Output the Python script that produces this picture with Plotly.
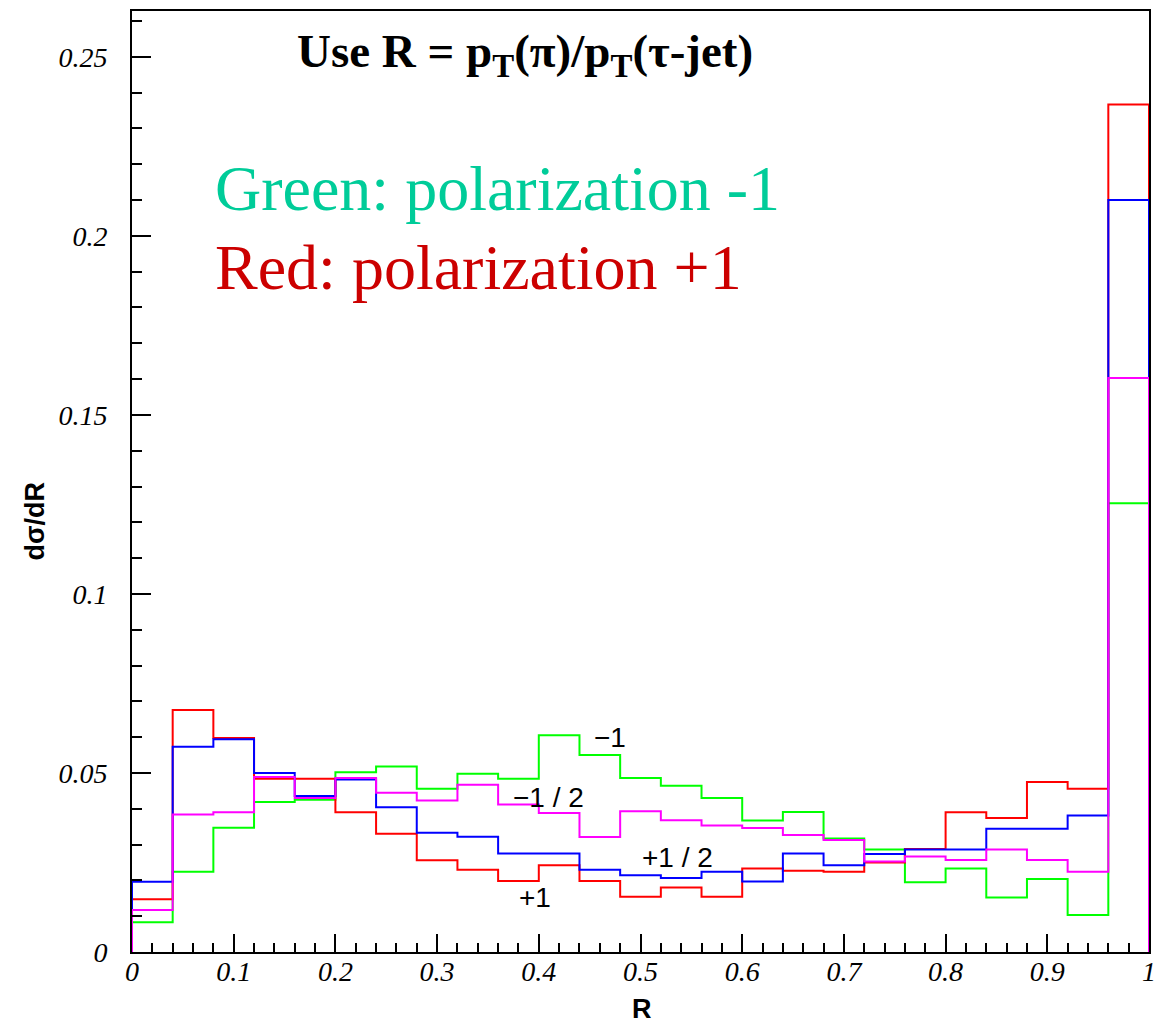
import plotly.graph_objects as go

# Bin edges: 25 bins of width 0.04 on [0, 1]
bin_width = 0.04
n_bins = 25
edges = [round(i * bin_width, 2) for i in range(n_bins + 1)]

# dσ/dR per bin
green_m1 = [0.0083, 0.0224, 0.0347, 0.0419, 0.0425, 0.0502, 0.0518, 0.0456, 0.0498, 0.0484,
            0.0605, 0.0550, 0.0486, 0.0464, 0.0430, 0.0367, 0.0391, 0.0317, 0.0286, 0.0195,
            0.0233, 0.0152, 0.0204, 0.0103, 0.1253]
red_p1 = [0.0147, 0.0676, 0.0598, 0.0484, 0.0484, 0.0390, 0.0330, 0.0256, 0.0230, 0.0198,
          0.0242, 0.0198, 0.0154, 0.0180, 0.0154, 0.0233, 0.0227, 0.0224, 0.0250, 0.0288,
          0.0390, 0.0374, 0.0475, 0.0456, 0.2367]
blue_p12 = [0.0196, 0.0573, 0.0594, 0.0500, 0.0436, 0.0482, 0.0404, 0.0333, 0.0322, 0.0275,
            0.0275, 0.0230, 0.0214, 0.0207, 0.0224, 0.0197, 0.0275, 0.0242, 0.0274, 0.0286,
            0.0286, 0.0344, 0.0344, 0.0381, 0.2100]
magenta_m12 = [0.0117, 0.0384, 0.0390, 0.0489, 0.0430, 0.0486, 0.0445, 0.0423, 0.0467, 0.0412,
               0.0388, 0.0321, 0.0393, 0.0368, 0.0353, 0.0346, 0.0327, 0.0313, 0.0253, 0.0267,
               0.0257, 0.0286, 0.0257, 0.0224, 0.1603]

series = [
    ("polarization -1", green_m1, "#00FF00"),
    ("polarization +1", red_p1, "#FF0000"),
    ("polarization +1/2", blue_p12, "#0000FF"),
    ("polarization -1/2", magenta_m12, "#FF00FF"),
]

# curve labels (text, x, y)
label_text = ["\u22121", "\u22121 / 2", "+1 / 2", "+1"]
label_x = [0.470, 0.410, 0.536, 0.396]
label_y = [0.0598, 0.0432, 0.0265, 0.0152]

y_tickvals = [0, 0.05, 0.1, 0.15, 0.2, 0.25]
y_ticktext = ["0", "0.05", "0.1", "0.15", "0.2", "0.25"]
x_tickvals = [0, 0.1, 0.2, 0.3, 0.4, 0.5, 0.6, 0.7, 0.8, 0.9, 1.0]
x_ticktext = ["0", "0.1", "0.2", "0.3", "0.4", "0.5", "0.6", "0.7", "0.8", "0.9", "1"]

fig = go.Figure()


def step_outline(values):
    # ROOT-style histogram outline: rises from 0 at first edge, drops to 0 at last edge
    xs = [edges[0]] + edges[:-1] + [edges[-1], edges[-1]]
    ys = [0] + list(values) + [values[-1], 0]
    return xs, ys


for name, vals, color in series:
    xs, ys = step_outline(vals)
    fig.add_trace(go.Scatter(x=xs, y=ys, mode="lines", line_shape="hv",
                             line=dict(color=color, width=2), name=name,
                             showlegend=False, hoverinfo="skip"))

for t, x, y in zip(label_text, label_x, label_y):
    fig.add_annotation(x=x, y=y, xref="x", yref="y", text=t, showarrow=False,
                       xanchor="center", yanchor="middle",
                       font=dict(family="Liberation Sans", size=28, color="black"))

serif = "Liberation Serif"
fig.add_annotation(x=0.160, y=0.954, xref="paper", yref="paper", xanchor="left", yanchor="middle",
                   text="<b>Use R = p<sub>T</sub>(\u03c0)/p<sub>T</sub>(\u03c4-jet)</b>",
                   showarrow=False, font=dict(family=serif, size=47, color="black"))
fig.add_annotation(x=0.080, y=0.811, xref="paper", yref="paper", xanchor="left", yanchor="middle",
                   text="Green: polarization -1", showarrow=False,
                   font=dict(family=serif, size=64, color="#00CC99"))
fig.add_annotation(x=0.080, y=0.727, xref="paper", yref="paper", xanchor="left", yanchor="middle",
                   text="Red: polarization +1", showarrow=False,
                   font=dict(family=serif, size=64, color="#CC0000"))

# axis titles
fig.add_annotation(x=-0.095, y=0.458, xref="paper", yref="paper", text="<b>d\u03c3/dR</b>",
                   textangle=-90, showarrow=False, xanchor="center", yanchor="middle",
                   font=dict(family="Liberation Sans", size=27, color="black"))
fig.add_annotation(x=0.501, y=-0.061, xref="paper", yref="paper", text="<b>R</b>",
                   showarrow=False, xanchor="center", yanchor="middle",
                   font=dict(family="Liberation Sans", size=27, color="black"))

tickfont = dict(family=serif, size=28, color="black", style="italic")
fig.update_xaxes(range=[0, 1], tickvals=x_tickvals, ticktext=x_ticktext, ticks="inside",
                 ticklen=18, tickwidth=2, tickcolor="black", showgrid=False, zeroline=False,
                 showline=True, linecolor="black", linewidth=2, mirror=True,
                 tickfont=tickfont, ticklabelstandoff=-7,
                 minor=dict(ticks="inside", ticklen=9, tickwidth=2, tickcolor="black", dtick=0.02,
                            showgrid=False))
fig.update_yaxes(range=[0, 0.2628], tickvals=y_tickvals, ticktext=y_ticktext, ticks="inside",
                 ticklen=19, tickwidth=2, tickcolor="black", showgrid=False, zeroline=False,
                 showline=True, linecolor="black", linewidth=2, mirror=True,
                 tickfont=tickfont, ticklabelstandoff=17,
                 minor=dict(ticks="inside", ticklen=10, tickwidth=2, tickcolor="black", dtick=0.01,
                            showgrid=False))

fig.update_layout(width=1165, height=1025, margin=dict(l=132, r=10, t=9, b=73),
                  plot_bgcolor="white", paper_bgcolor="white", showlegend=False)

fig.write_html("out.html")
